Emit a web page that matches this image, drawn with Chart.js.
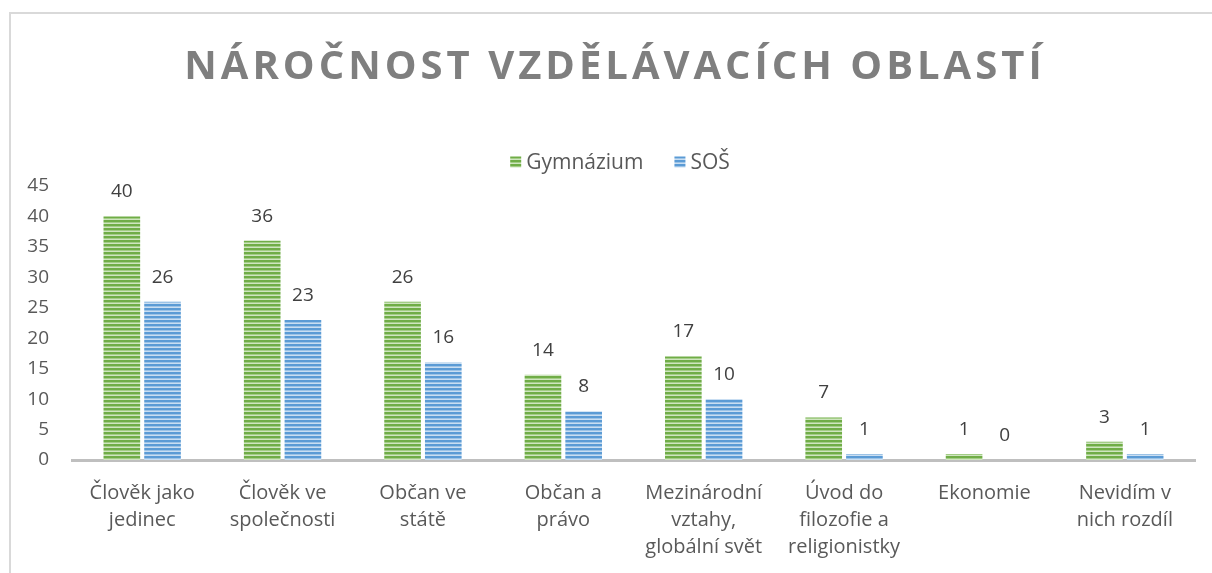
<!DOCTYPE html>
<html lang="cs">
<head>
    <meta charset="UTF-8">
    <title>Náročnost vzdělávacích oblastí</title>
    <style>
        body {
            margin: 0;
            background: #ffffff;
            overflow: hidden;
            font-family: 'Open Sans', sans-serif;
        }
        .frame {
            position: absolute;
            left: 9px;
            top: 12px;
            width: 1400px;
            height: 800px;
            border-top: 2px solid #d9d9d9;
            border-left: 2px solid #d9d9d9;
        }
        #chart {
            position: absolute;
            left: 0;
            top: 0;
        }
    </style>
</head>
<body>
    <div class="frame"></div>
    <canvas id="chart" width="1212" height="573"></canvas>

    <script src="https://cdn.jsdelivr.net/npm/chart.js"></script>
    <script>
        // categories (multi-line labels) and the two series
        const categories = [
            ['Člověk jako', 'jedinec'],
            ['Člověk ve', 'společnosti'],
            ['Občan ve', 'státě'],
            ['Občan a', 'právo'],
            ['Mezinárodní', 'vztahy,', 'globální svět'],
            ['Úvod do', 'filozofie a', 'religionistky'],
            ['Ekonomie'],
            ['Nevidím v', 'nich rozdíl']
        ];
        const gymnazium = [40, 36, 26, 14, 17, 7, 1, 3];
        const sos = [26, 23, 16, 8, 10, 1, 0, 1];
        const yTicks = { min: 0, max: 45, step: 5 };

        const titleText = 'NÁROČNOST VZDĚLÁVACÍCH OBLASTÍ';

        // horizontal striped fill like the office "narrow horizontal" pattern
        function stripes(dark, mid, light) {
            const c = document.createElement('canvas');
            c.width = 4;
            c.height = 4;
            const g = c.getContext('2d');
            g.fillStyle = dark;
            g.fillRect(0, 0, 4, 2);
            g.fillStyle = mid;
            g.fillRect(0, 2, 4, 1);
            g.fillStyle = light;
            g.fillRect(0, 3, 4, 1);
            return g.createPattern(c, 'repeat');
        }

        const greenFill = stripes('#70ad47', '#a3cd86', '#cfe5c0');
        const blueFill = stripes('#5b9bd5', '#9cc3e6', '#c9def2');

        // value labels above each bar
        const valueLabels = {
            id: 'valueLabels',
            afterDatasetsDraw(chart) {
                const ctx = chart.ctx;
                ctx.save();
                ctx.font = '19px "Open Sans"';
                ctx.fillStyle = '#404040';
                ctx.textAlign = 'center';
                ctx.textBaseline = 'bottom';
                chart.data.datasets.forEach((ds, i) => {
                    chart.getDatasetMeta(i).data.forEach((bar, j) => {
                        ctx.fillText(ds.data[j], bar.x, bar.y - 15);
                    });
                });
                ctx.restore();
            }
        };

        // title with letter spacing, drawn into the space the title box reserves
        const spacedTitle = {
            id: 'spacedTitle',
            afterDraw(chart) {
                const t = chart.titleBlock;
                const ctx = chart.ctx;
                ctx.save();
                ctx.font = 'bold 40px "Open Sans"';
                ctx.fillStyle = '#7f7f7f';
                ctx.textAlign = 'center';
                ctx.textBaseline = 'middle';
                ctx.letterSpacing = '4px';
                const padTop = t.options.padding.top;
                ctx.fillText(titleText, 615, t.top + padTop + 24);
                ctx.restore();
            }
        };

        // legend row: small swatch, label, wider gap between entries
        const legendRow = {
            id: 'legendRow',
            afterDraw(chart) {
                const ctx = chart.ctx;
                const box = 11, gap = 5, itemGap = 31, cx = 620, cy = 162;
                ctx.save();
                ctx.font = '21px "Open Sans"';
                ctx.textBaseline = 'middle';
                const items = chart.data.datasets.map(ds => ({
                    text: ds.label,
                    fill: ds.backgroundColor,
                    w: box + gap + ctx.measureText(ds.label).width
                }));
                const total = items.reduce((s, it) => s + it.w, 0) + itemGap * (items.length - 1);
                let x = cx - total / 2;
                items.forEach(it => {
                    ctx.fillStyle = it.fill;
                    ctx.fillRect(x, cy - box / 2, box, box);
                    ctx.fillStyle = '#595959';
                    ctx.fillText(it.text, x + box + gap, cy + 1);
                    x += it.w + itemGap;
                });
                ctx.restore();
            }
        };

        const ctx = document.getElementById('chart').getContext('2d');
        new Chart(ctx, {
            type: 'bar',
            data: {
                labels: categories,
                datasets: [
                    {
                        label: 'Gymnázium',
                        data: gymnazium,
                        backgroundColor: greenFill,
                        borderWidth: 0
                    },
                    {
                        label: 'SOŠ',
                        data: sos,
                        backgroundColor: blueFill,
                        borderWidth: 0
                    }
                ]
            },
            options: {
                responsive: false,
                animation: false,
                layout: {
                    padding: { left: 0, right: 17, top: 0, bottom: 0 }
                },
                categoryPercentage: 0.58,
                barPercentage: 0.9,
                scales: {
                    x: {
                        grid: { display: false },
                        border: { display: true, color: '#bfbfbf', width: 3 },
                        ticks: {
                            color: '#595959',
                            font: { family: 'Open Sans', size: 20, lineHeight: 1.35 },
                            padding: 12,
                            maxRotation: 0,
                            autoSkip: false
                        },
                        afterFit(axis) { axis.height = 113; }
                    },
                    y: {
                        min: yTicks.min,
                        max: yTicks.max,
                        grid: { display: false },
                        border: { display: false },
                        ticks: {
                            stepSize: yTicks.step,
                            color: '#595959',
                            font: { family: 'Open Sans', size: 19 },
                            padding: 15
                        },
                        afterFit(axis) { axis.width = 72; }
                    }
                },
                plugins: {
                    title: {
                        display: true,
                        text: titleText,
                        color: 'rgba(0,0,0,0)',
                        font: { family: 'Open Sans', size: 40, weight: 'bold' },
                        padding: { top: 44, bottom: 94 }
                    },
                    legend: { display: false },
                    tooltip: { enabled: false }
                }
            },
            plugins: [valueLabels, spacedTitle, legendRow]
        });
    </script>
</body>
</html>
